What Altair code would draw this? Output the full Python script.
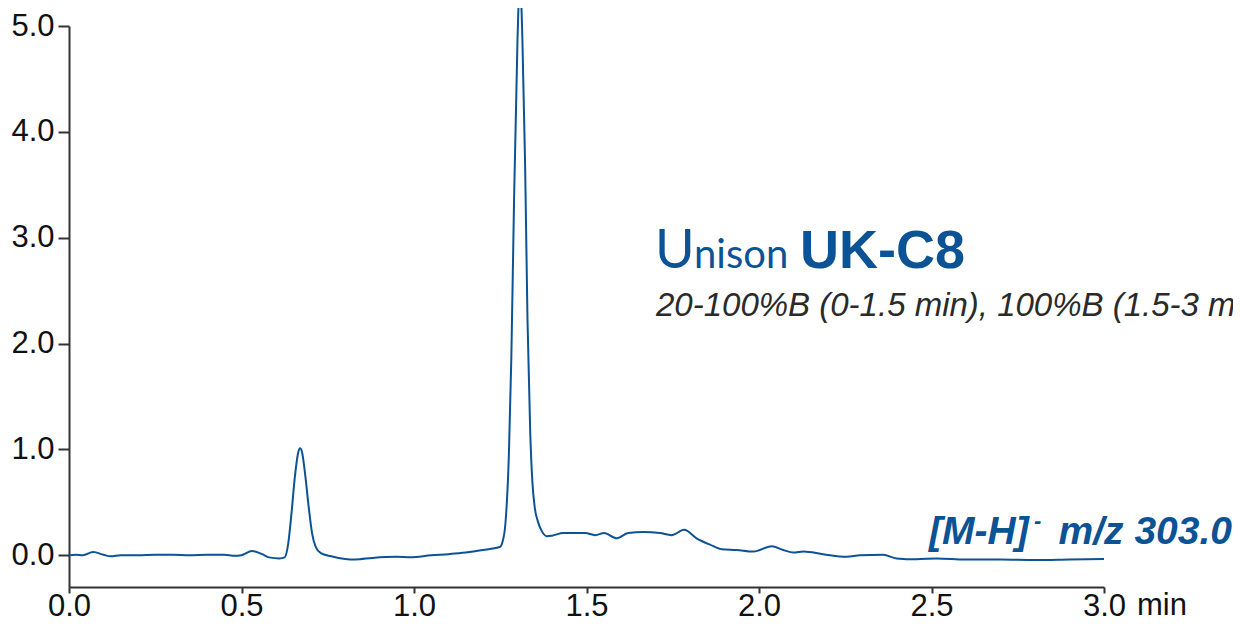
import altair as alt
import pandas as pd

# Retention time (min) and signal intensity
time_min = [
    0.00, 0.02, 0.04, 0.07, 0.10, 0.12, 0.15, 0.20, 0.25, 0.30, 0.35, 0.40, 0.45, 0.48,
    0.50, 0.53, 0.56, 0.58, 0.61, 0.625,
    0.635, 0.645, 0.655, 0.665, 0.670, 0.675, 0.685, 0.695, 0.705, 0.715, 0.73, 0.76,
    0.80, 0.83, 0.88, 0.95, 0.99, 1.05, 1.10, 1.15, 1.19, 1.22, 1.25, 1.256,
    1.265, 1.275, 1.282, 1.290, 1.300, 1.307, 1.314, 1.322, 1.329, 1.337, 1.343, 1.350,
    1.359, 1.370, 1.385, 1.40, 1.433, 1.496, 1.525, 1.551, 1.587, 1.621, 1.665, 1.713,
    1.747, 1.783, 1.819, 1.858, 1.892, 1.935, 1.984, 2.037, 2.07, 2.10, 2.129, 2.186,
    2.254, 2.293, 2.36, 2.399, 2.457, 2.515, 2.6, 2.7, 2.8, 2.9, 3.0,
]
intensity = [
    0.0, 0.005, 0.0, 0.03, 0.005, -0.01, 0.0, 0.0, 0.005, 0.005, 0.0, 0.005, 0.005, -0.005,
    0.0, 0.04, 0.01, -0.02, -0.03, -0.02,
    0.10, 0.40, 0.75, 0.98, 1.01, 0.98, 0.75, 0.45, 0.20, 0.08, 0.02, -0.01,
    -0.035, -0.04, -0.025, -0.015, -0.02, 0.0, 0.01, 0.025, 0.045, 0.06, 0.08, 0.12,
    0.30, 0.95, 1.85, 3.35, 4.87, 5.45, 4.90, 3.70, 2.22, 1.15, 0.70, 0.45,
    0.32, 0.23, 0.18, 0.185, 0.21, 0.21, 0.19, 0.21, 0.16, 0.21, 0.22, 0.21,
    0.19, 0.24, 0.16, 0.10, 0.057, 0.05, 0.035, 0.085, 0.05, 0.025, 0.035, 0.01,
    -0.015, 0.0, 0.005, -0.03, -0.038, -0.03, -0.04, -0.04, -0.045, -0.04, -0.035,
]

x_ticks = [0.0, 0.5, 1.0, 1.5, 2.0, 2.5, 3.0]
y_ticks = [0.0, 1.0, 2.0, 3.0, 4.0, 5.0]

BLUE = "#0b5394"
AXIS = "#333333"
FONT = "Liberation Sans"

df = pd.DataFrame({"t": time_min, "v": intensity})

line = alt.Chart(df).mark_line(
    color=BLUE, strokeWidth=2, interpolate="monotone", clip=False
).encode(
    x=alt.X("t:Q", scale=alt.Scale(domain=[0, 3.0], nice=False, zero=False),
            axis=alt.Axis(values=x_ticks, format=".1f", title=None, grid=False,
                          labelFontSize=31, labelFont=FONT, labelColor="#111111",
                          labelBaseline="alphabetic",
                          tickSize=6, tickWidth=2, tickColor=AXIS,
                          domainColor=AXIS, domainWidth=2, labelPadding=22,
                          labelFlush=False)),
    y=alt.Y("v:Q", scale=alt.Scale(domain=[-0.3, 5.0], nice=False, zero=False),
            axis=alt.Axis(values=y_ticks, format=".1f", title=None, grid=False,
                          labelFontSize=31, labelFont=FONT, labelColor="#111111",
                          tickSize=11, tickWidth=2, tickColor=AXIS,
                          domainColor=AXIS, domainWidth=2, labelPadding=4,
                          labelFlush=False)),
)

def txt(text, x, y, size, color, weight="normal", style="normal", font=FONT, align="left"):
    return alt.Chart(pd.DataFrame({"s": [text]})).mark_text(
        fontSize=size, font=font, fontWeight=weight, fontStyle=style, color=color,
        align=align, baseline="alphabetic", clip=False
    ).encode(text="s:N", x=alt.value(x), y=alt.value(y))

ox, oy = 69, 26
layers = [
    line,
    txt("U", 655 - ox, 268 - oy, 54, BLUE, font="Lato"),
    txt("nison", 694 - ox, 268 - oy, 40, BLUE, font="Lato"),
    txt("UK-C8", 800 - ox, 268 - oy, 54, BLUE, weight="bold"),
    txt("20-100%B (0-1.5 min), 100%B (1.5-3 min)", 656 - ox, 316 - oy, 33, "#2a2a2a", style="italic"),
    txt("[M-H]", 929 - ox, 544 - oy, 39, BLUE, weight="bold", style="italic"),
    txt("-", 1034 - ox, 528 - oy, 22, BLUE, weight="bold", style="italic"),
    txt("m/z 303.0", 1232 - ox, 544 - oy, 39, BLUE, weight="bold", style="italic", align="right"),
    txt("min", 1137 - ox, 615 - oy, 31, "#111111"),
]

chart = alt.layer(*layers).properties(
    width=1035, height=561,
    background="white",
    autosize=alt.AutoSizeParams(type="none"),
    padding={"left": 61, "top": 18, "right": 129, "bottom": 34},
).configure_view(strokeWidth=0, stroke="transparent")

chart.save("out.html", embed_options={"renderer": "svg", "actions": False})
